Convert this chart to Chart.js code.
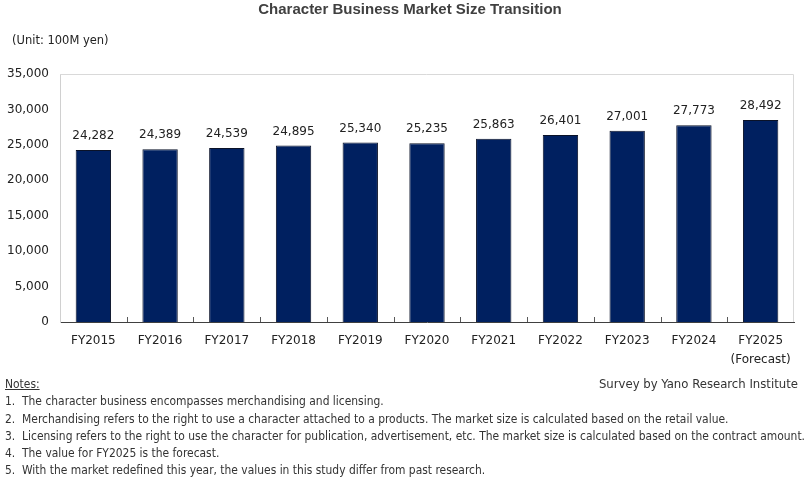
<!DOCTYPE html>
<html>
<head>
<meta charset="utf-8">
<script src="https://cdn.jsdelivr.net/npm/chart.js@4.4.1/dist/chart.umd.min.js"></script>
<style>
  html, body { margin: 0; padding: 0; background: #fff; }
  #wrap { position: relative; width: 807px; height: 477px; overflow: hidden; }
  #c { position: absolute; left: 0; top: 0; }
  .t { position: absolute; white-space: nowrap; color: #333; }
  #title { left: 0; width: 820px; text-align: center; top: 0px; font: bold 15px "Liberation Sans", Arial, sans-serif; color: #404040; }
  #unit { left: 12px; top: 33px; font: 11.5px "DejaVu Sans", Verdana, sans-serif; color: #222; }
  .n, .s { font-family: "DejaVu Sans Condensed", "Liberation Sans Narrow", sans-serif; font-size: 13px; color: #333; transform-origin: 0 0; }
</style>
</head>
<body>
<div id="wrap">
  <canvas id="c" width="807" height="477"></canvas>
  <div class="t" id="title">Character Business Market Size Transition</div>
  <div class="t" id="unit">(Unit: 100M yen)</div>
  <div class="t n" style="left:5px; top:376px; text-decoration: underline;">Notes:</div>
  <div class="t s" style="right:9px; top:376px;">Survey by Yano Research Institute</div>
  <div class="t n" style="left:5px; top:393px;">1.&nbsp; The character business encompasses merchandising and licensing.</div>
  <div class="t n" style="left:5px; top:411px;">2.&nbsp; Merchandising refers to the right to use a character attached to a products. The market size is calculated based on the retail value.</div>
  <div class="t n" id="longest" style="left:5px; top:428px;">3.&nbsp; Licensing refers to the right to use the character for publication, advertisement, etc. The market size is calculated based on the contract amount.</div>
  <div class="t n" style="left:5px; top:445px;">4.&nbsp; The value for FY2025 is the forecast.</div>
  <div class="t n" style="left:5px; top:462px;">5.&nbsp; With the market redefined this year, the values in this study differ from past research.</div>
</div>
<script>
const categories = ["FY2015","FY2016","FY2017","FY2018","FY2019","FY2020","FY2021","FY2022","FY2023","FY2024",["FY2025","(Forecast)"]];
const marketSize = [24282, 24389, 24539, 24895, 25340, 25235, 25863, 26401, 27001, 27773, 28492];
const yTicks = [0, 5000, 10000, 15000, 20000, 25000, 30000, 35000];

const fmt = v => v.toString().replace(/\B(?=(\d{3})+(?!\d))/g, ",");

// fit the notes block so its longest line spans the page width like the reference
(function () {
  const w = document.getElementById('longest').getBoundingClientRect().width;
  const k = Math.min(1, 800 / w);
  document.querySelectorAll('.n').forEach(el => { el.style.transform = 'scaleX(' + k + ')'; });
})();

const framePlugin = {
  id: 'frame',
  beforeDatasetsDraw(chart) {
    const {ctx, chartArea: a} = chart;
    ctx.save();
    ctx.strokeStyle = '#d9d9d9';
    ctx.lineWidth = 1;
    ctx.beginPath();
    ctx.moveTo(a.left, a.top + 0.5);
    ctx.lineTo(a.right - 0.5, a.top + 0.5);
    ctx.lineTo(a.right - 0.5, a.bottom);
    ctx.stroke();
    ctx.restore();
  },
  afterDraw(chart) {
    const {ctx, chartArea: a} = chart;
    const xs = chart.scales.x;
    ctx.save();
    ctx.strokeStyle = '#595959';
    ctx.lineWidth = 1;
    ctx.beginPath();
    for (let i = 1; i < categories.length; i++) {
      const x = Math.round((xs.getPixelForValue(i - 1) + xs.getPixelForValue(i)) / 2) + 0.5;
      ctx.moveTo(x, a.bottom);
      ctx.lineTo(x, a.bottom - 5);
    }
    ctx.stroke();
    const meta = chart.getDatasetMeta(0);
    ctx.fillStyle = '#222';
    ctx.font = '12px "DejaVu Sans", Verdana, sans-serif';
    ctx.textAlign = 'center';
    ctx.textBaseline = 'middle';
    meta.data.forEach((bar, i) => {
      ctx.fillText(fmt(marketSize[i]), bar.x, bar.y - 14);
    });
    ctx.restore();
  }
};

new Chart(document.getElementById('c'), {
  type: 'bar',
  data: {
    labels: categories,
    datasets: [{
      data: marketSize,
      backgroundColor: '#002060',
      borderColor: '#0a1228',
      borderWidth: 1,
      barPercentage: 0.53,
      categoryPercentage: 1.0
    }]
  },
  options: {
    responsive: false,
    animation: false,
    devicePixelRatio: 1,
    layout: { padding: { left: 0, right: 13, top: 74, bottom: 105 } },
    plugins: { legend: { display: false }, tooltip: { enabled: false } },
    scales: {
      x: {
        grid: { display: false, drawTicks: false },
        border: { color: '#404040', width: 1 },
        ticks: { color: '#222', font: { family: '"DejaVu Sans", Verdana, sans-serif', size: 12, lineHeight: 1.58 }, padding: 9, maxRotation: 0, autoSkip: false },
        afterFit(s) { s.height = 50; }
      },
      y: {
        min: 0, max: 35000,
        afterBuildTicks(s) { s.ticks = yTicks.map(v => ({ value: v })); },
        grid: { display: false, drawTicks: false },
        border: { color: '#d0d0d0', width: 1 },
        ticks: { color: '#222', font: { family: '"DejaVu Sans", Verdana, sans-serif', size: 12 }, padding: 11, callback: v => fmt(v) },
        afterFit(s) { s.width = 60; }
      }
    }
  },
  plugins: [framePlugin]
});
</script>
</body>
</html>
